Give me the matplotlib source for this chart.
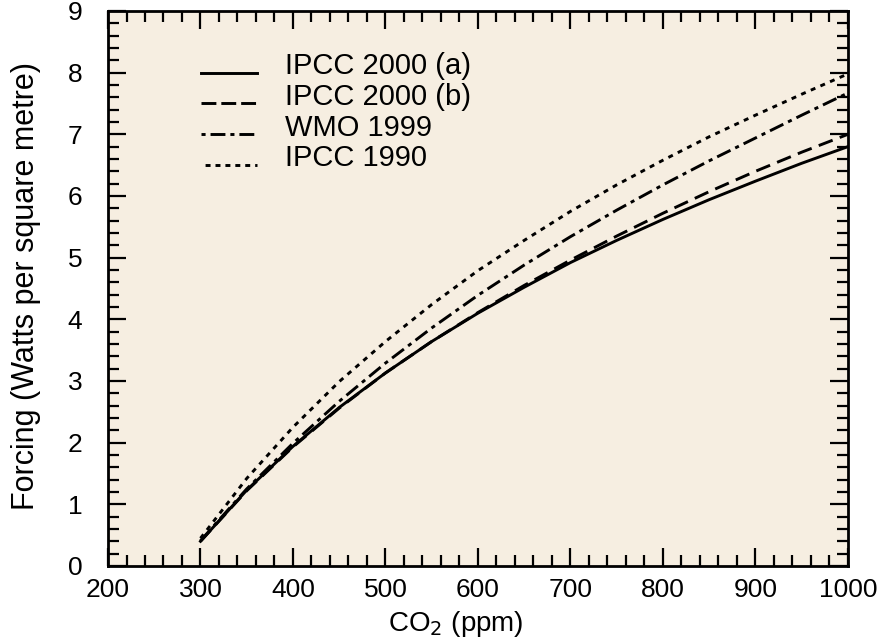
import matplotlib
matplotlib.use("Agg")
import matplotlib.pyplot as plt
from matplotlib.ticker import MultipleLocator
from matplotlib.lines import Line2D

plt.rcParams['font.family'] = ['Liberation Sans', 'DejaVu Sans']

co2 = [300, 350, 400, 450, 500, 550, 600, 650, 700, 750, 800, 850, 900, 950, 1000]
ipcc2000a = [0.40, 1.23, 1.94, 2.57, 3.13, 3.64, 4.10, 4.52, 4.92, 5.28, 5.62, 5.94, 6.24, 6.53, 6.80]
ipcc2000b = [0.40, 1.22, 1.93, 2.56, 3.13, 3.64, 4.11, 4.55, 4.96, 5.35, 5.72, 6.07, 6.40, 6.71, 7.00]
wmo1999 = [0.41, 1.25, 1.99, 2.67, 3.29, 3.86, 4.39, 4.88, 5.34, 5.77, 6.18, 6.57, 6.94, 7.31, 7.67]
ipcc1990 = [0.45, 1.42, 2.25, 2.99, 3.64, 4.24, 4.79, 5.28, 5.75, 6.18, 6.58, 6.96, 7.31, 7.65, 7.98]
labels = ["IPCC 2000 (a)", "IPCC 2000 (b)", "WMO 1999", "IPCC 1990"]

fig = plt.figure(figsize=(8.86, 6.42), dpi=100)
ax = fig.add_axes([0.1219, 0.1184, 0.957 - 0.1219, 0.9829 - 0.1184])
ax.set_facecolor('#F6EEE1')

lw = 2.1
styles = ['-', (0, (5.1, 2.6)), (0, (5.1, 1.8, 1.4, 1.8)), (0, (1.7, 1.9))]
series = [ipcc2000a, ipcc2000b, wmo1999, ipcc1990]
for ys, ls in zip(series, styles):
    ax.plot(co2, ys, color='black', lw=lw, linestyle=ls)

# legend drawn manually (swatch sits on the text baseline, as in the original)
leg_styles = ['-', (0, (5.1, 1.7)), (0, (1.4, 1.7, 5.1, 1.7)), (2.0, (1.7, 1.7))]
y0, dy = 0.889, 0.0557
for i, (lab, ls) in enumerate(zip(labels, leg_styles)):
    y = y0 - i * dy
    ax.add_line(Line2D([0.1257, 0.2014], [y, y], transform=ax.transAxes,
                       color='black', lw=lw, linestyle=ls))
    ax.text(0.2392, y - 0.002, lab, transform=ax.transAxes, fontsize=21,
            ha='left', va='baseline')

ax.set_xlim(200, 1000)
ax.set_ylim(0, 9)
ax.xaxis.set_major_locator(MultipleLocator(100))
ax.xaxis.set_minor_locator(MultipleLocator(20))
ax.yaxis.set_major_locator(MultipleLocator(1))
ax.yaxis.set_minor_locator(MultipleLocator(0.2))

ax.tick_params(which='both', direction='in', top=True, right=True, width=1.6, labelsize=19)
ax.tick_params(which='major', length=13)
ax.tick_params(which='minor', length=8)
ax.tick_params(axis='x', which='major', pad=9)
ax.tick_params(axis='y', which='major', pad=18.5)
for s in ax.spines.values():
    s.set_linewidth(2.0)

ax.set_xlabel("CO$_2$ (ppm)", fontsize=20)
ax.xaxis.set_label_coords(0.47, -0.078)
ax.set_ylabel("Forcing (Watts per square metre)", fontsize=22)
ax.yaxis.set_label_coords(-0.0905, 0.505)

fig.savefig("out.png", dpi=100)
